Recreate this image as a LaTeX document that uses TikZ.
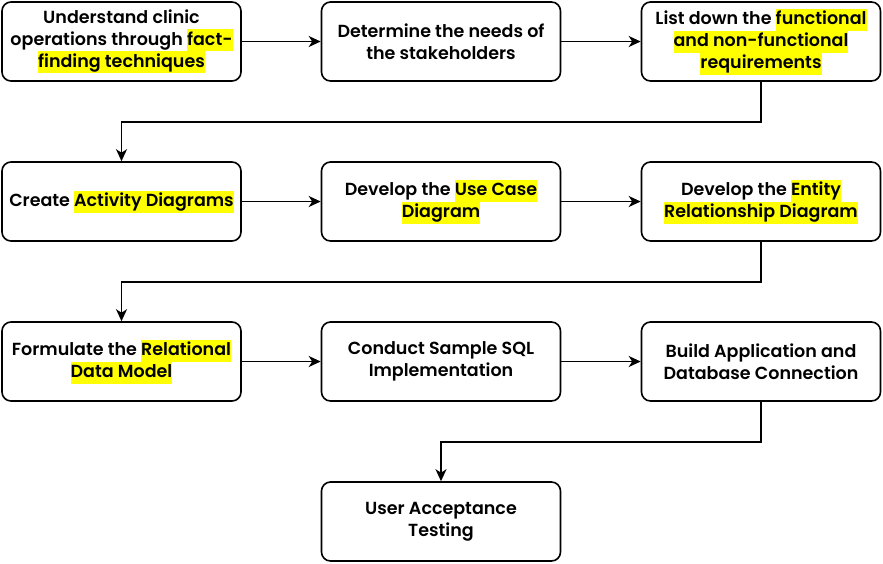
\documentclass[tikz,border=0pt]{standalone}
\usepackage{fontspec}
\setmainfont{Poppins SemiBold}
\usetikzlibrary{arrows.meta}
\definecolor{hlyellow}{RGB}{255,255,0}
\newcommand{\hl}[1]{{\setlength{\fboxsep}{0pt}\colorbox{hlyellow}{\rule[-6pt]{0pt}{22pt}#1}}}
\tikzset{
  stepbox/.style={draw, line width=1.6pt, rounded corners=9pt, minimum width=239pt,
    minimum height=79pt, align=center, inner sep=1pt,
    font=\fontsize{17.5}{22}\selectfont},
  arr/.style={-{Stealth[length=12pt,width=11pt,inset=3.5pt]}, line width=1.5pt}
}
\begin{document}
\begin{tikzpicture}[x=1pt, y=-1pt]
  \useasboundingbox (0,0) rectangle (883,563);
  % row 1
  \node[stepbox] (b1) at (121.5,41.5) {Understand clinic\\operations through \hl{fact-}\\\hl{finding techniques}};
  \node[stepbox] (b2) at (441,41.5) {Determine the needs of\\the stakeholders};
  \node[stepbox] (b3) at (761,41.5) {List down the \hl{functional}\\\hl{and non-functional}\\\hl{requirements}};
  % row 2
  \node[stepbox] (b4) at (121.5,201.5) {Create \hl{Activity Diagrams}};
  \node[stepbox] (b5) at (441,201.5) {Develop the \hl{Use Case}\\\hl{Diagram}};
  \node[stepbox] (b6) at (761,201.5) {Develop the \hl{Entity}\\\hl{Relationship Diagram}};
  % row 3
  \node[stepbox] (b7) at (121.5,361.5) {Formulate the \hl{Relational}\\\hl{Data Model}};
  \node[stepbox] (b8) at (441,361.5) {Conduct Sample SQL\\Implementation};
  \node[stepbox] (b9) at (761,361.5) {Build Application and\\Database Connection};
  % row 4
  \node[stepbox] (b10) at (441,521.5) {User Acceptance\\Testing};
  % arrows
  \foreach \a/\b in {b1/b2, b2/b3, b4/b5, b5/b6, b7/b8, b8/b9} {
    \draw[arr] (\a) -- (\b);
  }
  \draw[arr] (b3.south) -- ++(0,40) -| (b4.north);
  \draw[arr] (b6.south) -- ++(0,40) -| (b7.north);
  \draw[arr] (b9.south) -- ++(0,40) -| (b10.north);
\end{tikzpicture}
\end{document}
